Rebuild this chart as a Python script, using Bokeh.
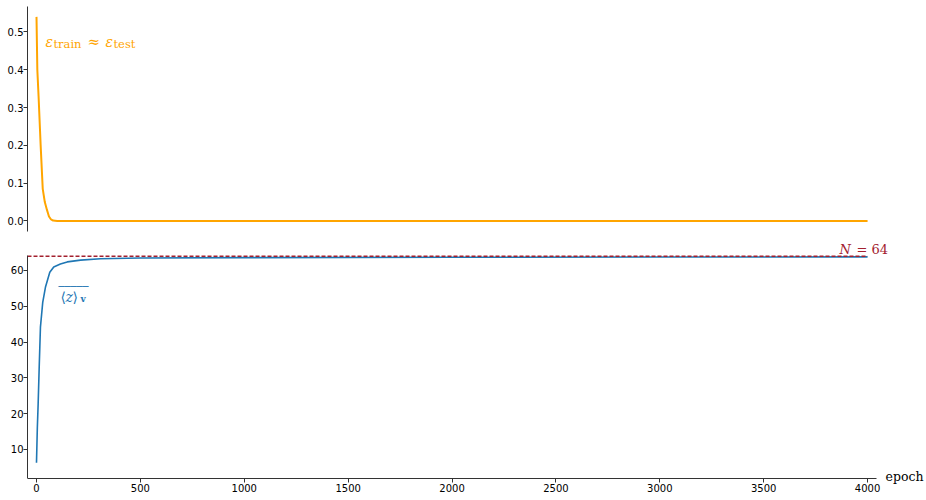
from bokeh.plotting import figure
from bokeh.layouts import column
from bokeh.models import Label, Range1d, FixedTicker
from bokeh.embed import file_html
from bokeh.resources import INLINE

# ---- data ----
err_epochs = [0, 4, 10, 20, 30, 40, 50, 60, 70, 80, 100, 150, 200, 500, 1000, 1500, 2000, 2500, 3000, 3500, 4000]
err_values = [0.54, 0.40, 0.33, 0.20, 0.085, 0.05, 0.03, 0.012, 0.004, 0.001, 0.0, 0.0, 0.0, 0.0, 0.0, 0.0, 0.0, 0.0, 0.0, 0.0, 0.0]

z_epochs = [0, 4, 8, 13, 19, 30, 43, 64, 83, 115, 148, 212, 308, 500, 1000, 2000, 3000, 4000]
z_values = [6.3, 16.0, 22.8, 33.0, 44.2, 51.1, 55.3, 59.5, 61.0, 61.8, 62.4, 62.9, 63.3, 63.5, 63.6, 63.7, 63.75, 63.8]

N_value = 64

x_ticks = [0, 500, 1000, 1500, 2000, 2500, 3000, 3500, 4000]
err_ticks = [0.0, 0.1, 0.2, 0.3, 0.4, 0.5]
err_tick_labels = ["0.0", "0.1", "0.2", "0.3", "0.4", "0.5"]
z_ticks = [10, 20, 30, 40, 50, 60]

ORANGE = "#ffa500"
BLUE = "#1f77b4"
RED = "#a3202e"
AXIS = "#333333"
SERIF = "DejaVu Serif"

# axis extents (spines) and visible ranges
x_bounds = (-43.3, 4043)
err_bounds = (-0.0278, 0.5675)
z_bounds = (1.9, 64.2)

x_range = Range1d(-43.3, 4274)

SHIFT = 5  # baseline correction for labels


def style_axis(ax, standoff=0):
    ax.axis_line_color = AXIS
    ax.axis_line_width = 1
    ax.major_tick_line_color = AXIS
    ax.major_tick_out = 4
    ax.major_tick_in = 0
    ax.minor_tick_out = 0
    ax.minor_tick_in = 0
    ax.major_label_text_font = "DejaVu Sans"
    ax.major_label_text_font_size = "10px"
    ax.major_label_text_color = "#000000"
    ax.major_label_standoff = standoff


# ---- top panel ----
top = figure(width=924, height=240, x_range=x_range, y_range=Range1d(-0.0516, 0.5833),
             output_backend="svg", toolbar_location=None, x_axis_location=None,
             min_border_left=27, min_border_right=0, min_border_top=0, min_border_bottom=0)
top.grid.visible = False
top.outline_line_color = None
top.yaxis.ticker = FixedTicker(ticks=err_ticks)
top.yaxis.major_label_overrides = {t: l for t, l in zip(err_ticks, err_tick_labels)}
top.yaxis.bounds = err_bounds
style_axis(top.yaxis[0])
top.line(err_epochs, err_values, color=ORANGE, line_width=2)

ex, ey = 48, 0.459
top.add_layout(Label(x=ex, y=ey, x_offset=-1, y_offset=SHIFT, text="ε", text_font=SERIF,
                     text_font_style="italic", text_font_size="14px", text_color=ORANGE,
                     text_baseline="alphabetic"))
top.add_layout(Label(x=ex, y=ey, x_offset=7, y_offset=SHIFT - 1.5, text="train", text_font=SERIF,
                     text_font_size="11.5px", text_color=ORANGE, text_baseline="alphabetic"))
top.add_layout(Label(x=ex, y=ey, x_offset=41, y_offset=SHIFT, text="≈", text_font=SERIF,
                     text_font_size="15px", text_color=ORANGE, text_baseline="alphabetic"))
top.add_layout(Label(x=ex, y=ey, x_offset=59, y_offset=SHIFT, text="ε", text_font=SERIF,
                     text_font_style="italic", text_font_size="14px", text_color=ORANGE,
                     text_baseline="alphabetic"))
top.add_layout(Label(x=ex, y=ey, x_offset=67, y_offset=SHIFT - 1.5, text="test", text_font=SERIF,
                     text_font_size="11.5px", text_color=ORANGE, text_baseline="alphabetic"))

# ---- bottom panel ----
bot = figure(width=924, height=258, x_range=x_range, y_range=Range1d(-3.69, 68.38),
             output_backend="svg", toolbar_location=None,
             min_border_left=27, min_border_right=0, min_border_top=0, min_border_bottom=0)
bot.grid.visible = False
bot.outline_line_color = None
bot.xaxis.ticker = FixedTicker(ticks=x_ticks)
bot.yaxis.ticker = FixedTicker(ticks=z_ticks)
bot.xaxis.bounds = x_bounds
bot.yaxis.bounds = z_bounds
bot.xaxis.fixed_location = z_bounds[0]
style_axis(bot.yaxis[0])
style_axis(bot.xaxis[0], standoff=2)

bot.line(z_epochs, z_values, color=BLUE, line_width=1.6)
bot.line([x_bounds[0], z_epochs[-1]], [N_value, N_value], color=RED, line_width=1.5, line_dash="4 2")

zx, zy = 115.5, 51.1
bot.add_layout(Label(x=zx, y=zy, y_offset=SHIFT, text="⟨", text_font=SERIF, text_font_size="14px",
                     text_color=BLUE, text_baseline="alphabetic"))
bot.add_layout(Label(x=zx, y=zy, x_offset=5, y_offset=SHIFT, text="z", text_font=SERIF,
                     text_font_style="italic", text_font_size="14px", text_color=BLUE,
                     text_baseline="alphabetic"))
bot.add_layout(Label(x=zx, y=zy, x_offset=12, y_offset=SHIFT, text="⟩", text_font=SERIF,
                     text_font_size="14px", text_color=BLUE, text_baseline="alphabetic"))
bot.add_layout(Label(x=zx, y=zy, x_offset=20, y_offset=SHIFT - 2, text="v", text_font=SERIF,
                     text_font_style="bold", text_font_size="9px",
                     text_color=BLUE, text_baseline="alphabetic"))
bot.add_layout(Label(x=zx, y=zy, x_offset=-2, y_offset=SHIFT + 5.5, text="‾‾‾‾‾", text_font="DejaVu Sans",
                     text_font_size="12px", text_color=BLUE, text_baseline="alphabetic"))

bot.add_layout(Label(x=z_epochs[-1], y=N_value, x_offset=-28, y_offset=SHIFT + 1.7, text="N",
                     text_font=SERIF, text_font_style="italic", text_font_size="13px",
                     text_color=RED, text_baseline="alphabetic"))
bot.add_layout(Label(x=z_epochs[-1], y=N_value, x_offset=-11, y_offset=SHIFT + 1.7, text="= 64",
                     text_font=SERIF, text_font_size="13px", text_color=RED,
                     text_baseline="alphabetic"))

bot.add_layout(Label(x=x_bounds[1], y=z_bounds[0], x_offset=9, y_offset=SHIFT - 2.7, text="epoch",
                     text_font=SERIF, text_font_size="12.5px", text_color="#000000",
                     text_baseline="alphabetic"))

layout = column(top, bot, spacing=0)
open("out.html", "w").write(file_html(layout, INLINE))
